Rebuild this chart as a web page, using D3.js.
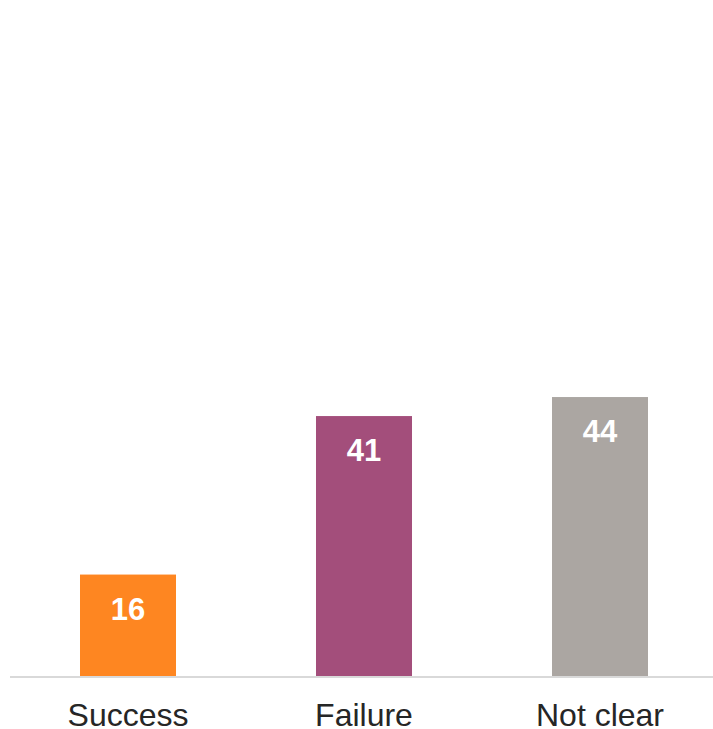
<!DOCTYPE html>
<html>
<head>
<meta charset="utf-8">
<script src="https://cdn.jsdelivr.net/npm/d3@7"></script>
<style>
  html, body { margin: 0; padding: 0; background: #ffffff; }
  svg { display: block; }
</style>
</head>
<body>
<svg id="chart" width="713" height="729"></svg>
<script>
const categories = ["Success", "Failure", "Not clear"];
const values = [16, 41, 44];
const colors = ["#fe8621", "#a34e7b", "#aba6a2"];

const svg = d3.select("#chart");
const baseline = 676;

const x = d3.scaleBand()
  .domain(categories)
  .range([10, 718])
  .paddingInner(0.5932)
  .paddingOuter(0.2966);

const y = d3.scaleLinear()
  .domain([0, 100])
  .range([baseline, 42]);

svg.selectAll("rect.bar")
  .data(values)
  .join("rect")
  .attr("class", "bar")
  .attr("x", (d, i) => x(categories[i]))
  .attr("y", d => y(d))
  .attr("width", x.bandwidth())
  .attr("height", d => y(0) - y(d))
  .attr("fill", (d, i) => colors[i]);

// baseline axis
svg.append("line")
  .attr("x1", 10).attr("x2", 713)
  .attr("y1", baseline + 1).attr("y2", baseline + 1)
  .attr("stroke", "#d9d9d9")
  .attr("stroke-width", 2);

// value labels
svg.selectAll("text.val")
  .data(values)
  .join("text")
  .attr("class", "val")
  .attr("x", (d, i) => x(categories[i]) + x.bandwidth() / 2)
  .attr("y", d => y(d) + 45)
  .attr("text-anchor", "middle")
  .attr("font-family", "Liberation Sans, Arial, sans-serif")
  .attr("font-weight", "bold")
  .attr("font-size", 31)
  .attr("fill", "#ffffff")
  .text(d => d);

// category labels
svg.selectAll("text.cat")
  .data(categories)
  .join("text")
  .attr("class", "cat")
  .attr("x", d => x(d) + x.bandwidth() / 2)
  .attr("y", 726)
  .attr("text-anchor", "middle")
  .attr("font-family", "Liberation Sans, Arial, sans-serif")
  .attr("font-size", 32)
  .attr("fill", "#262626")
  .text(d => d);
</script>
</body>
</html>
